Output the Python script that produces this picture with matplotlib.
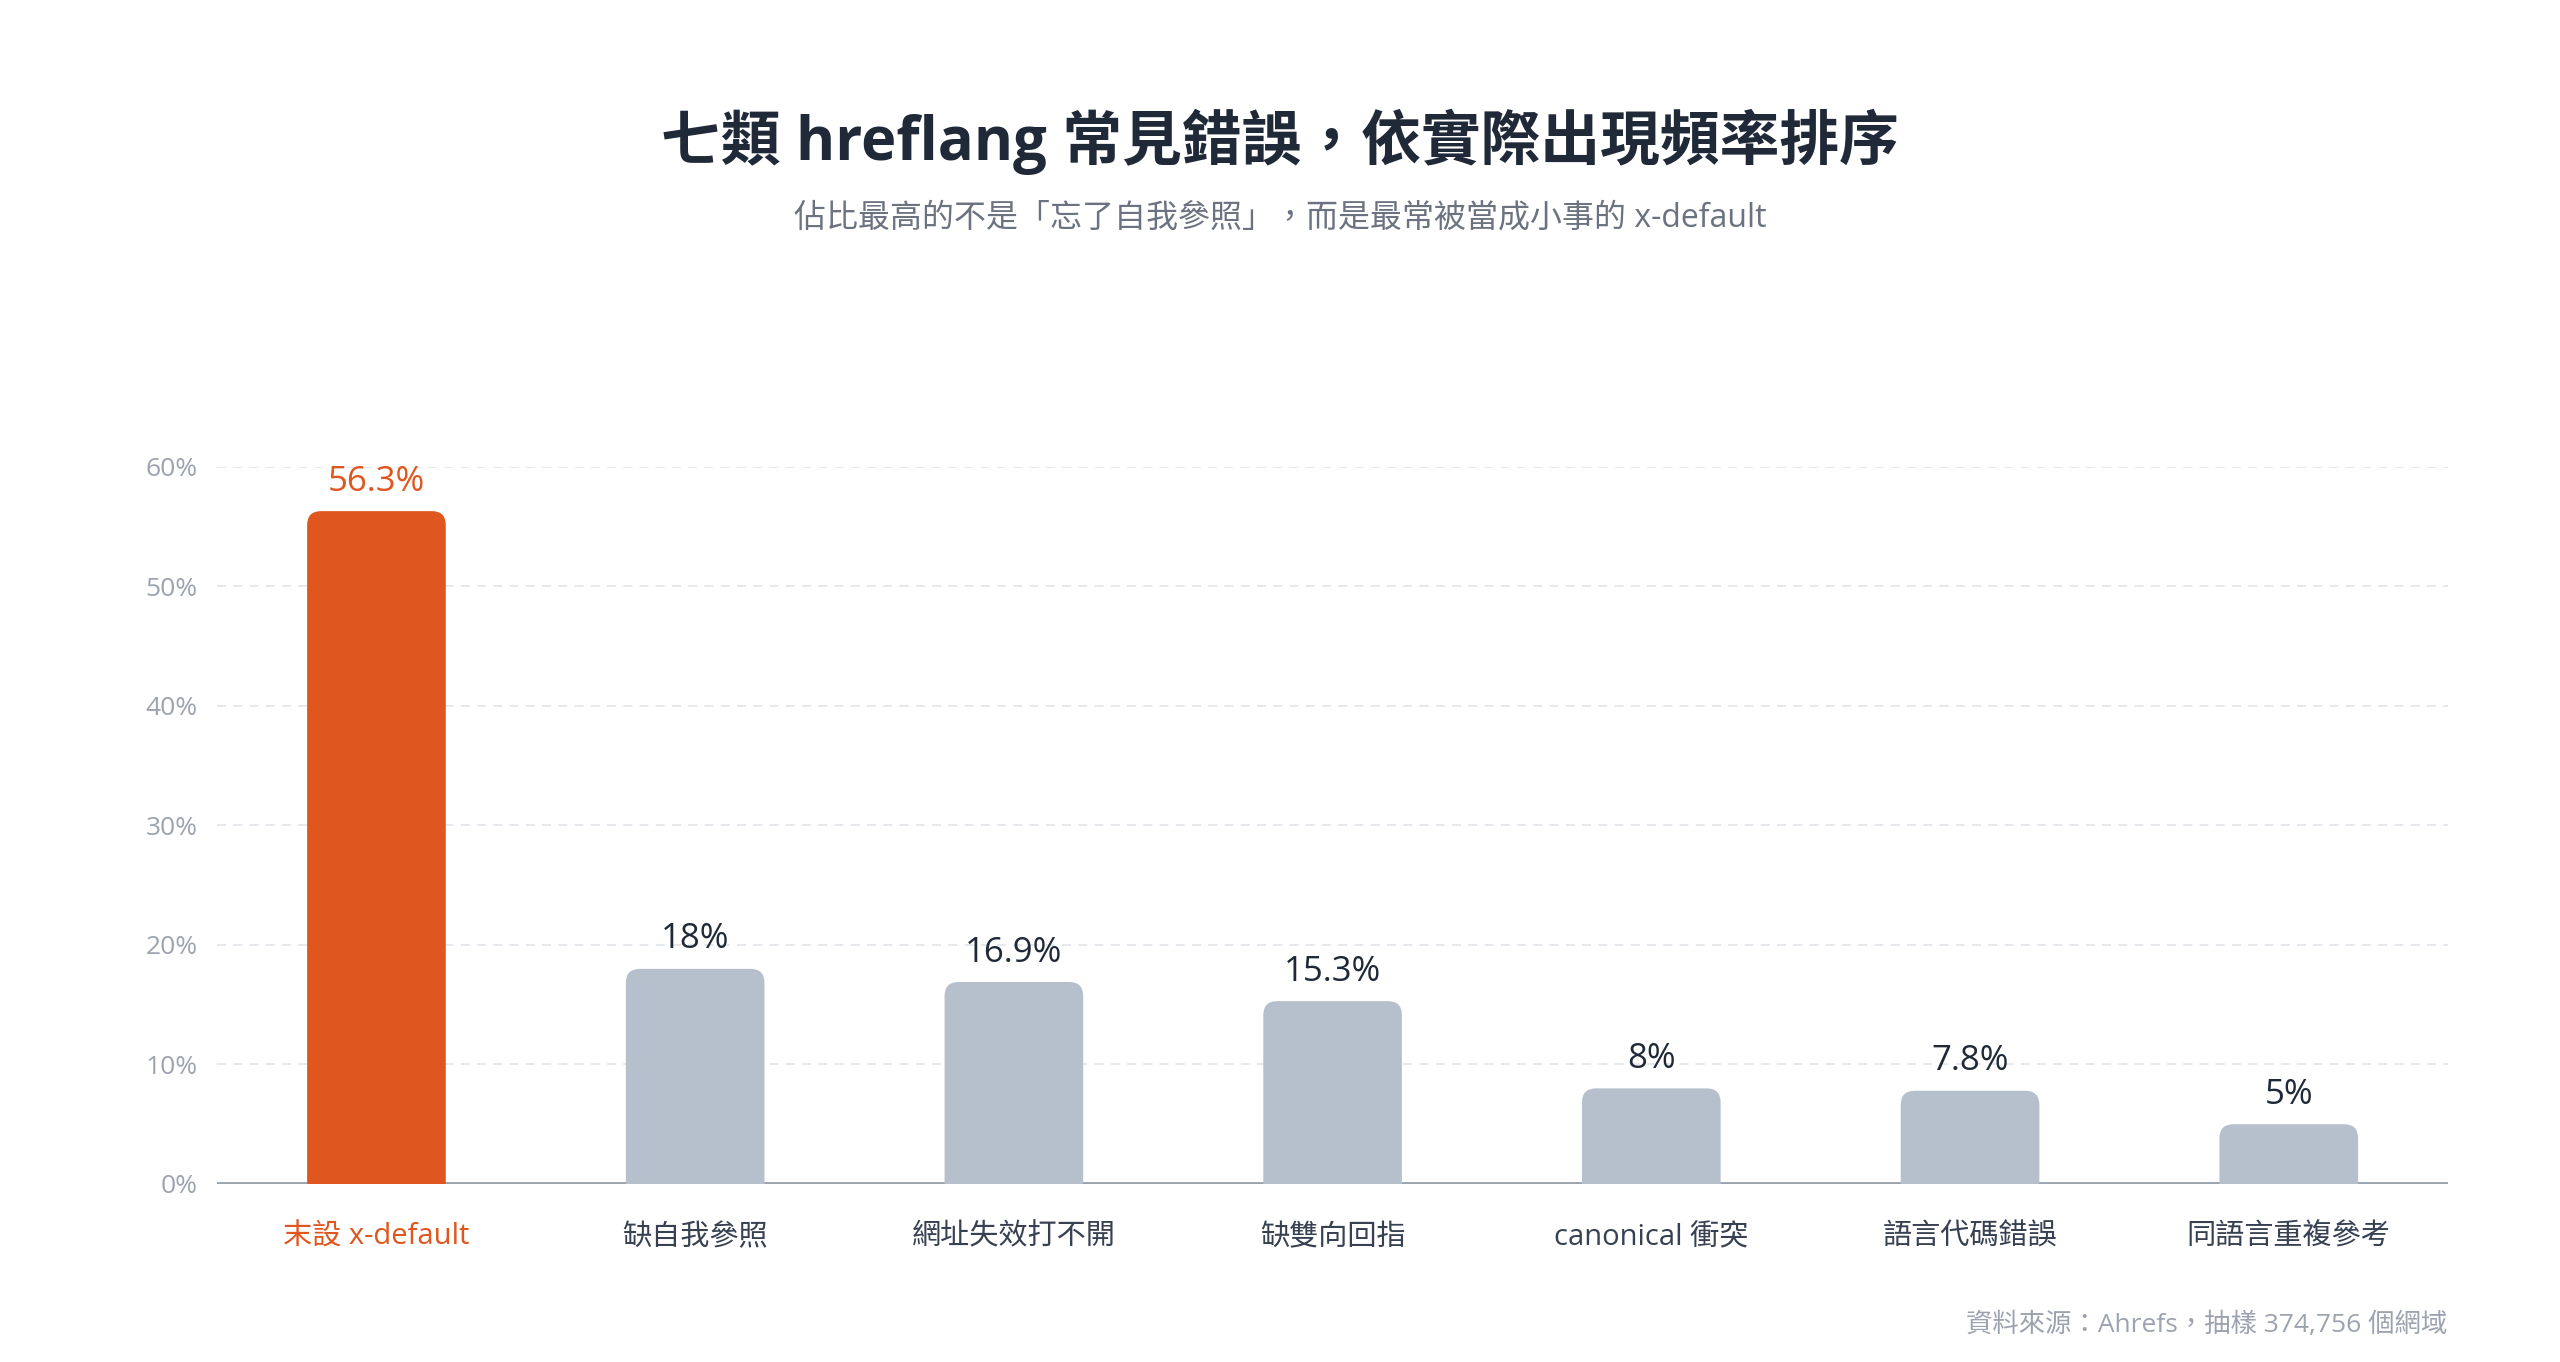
import numpy as np
import matplotlib
matplotlib.use("Agg")
import matplotlib.pyplot as plt
from matplotlib.patches import PathPatch
from matplotlib.path import Path

plt.rcParams['font.family'] = ['Open Sans', 'Noto Sans CJK TC', 'DejaVu Sans']

# --- data ---
categories = ['末設 x-default', '缺自我參照', '網址失效打不開', '缺雙向回指',
              'canonical 衝突', '語言代碼錯誤', '同語言重複參考']
values = [56.3, 18, 16.9, 15.3, 8, 7.8, 5]
value_labels = ['56.3%', '18%', '16.9%', '15.3%', '8%', '7.8%', '5%']
yticks = [0, 10, 20, 30, 40, 50, 60]
ytick_labels = ['0%', '10%', '20%', '30%', '40%', '50%', '60%']

title = '七類 hreflang 常見錯誤，依實際出現頻率排序'
subtitle = '佔比最高的不是「忘了自我參照」，而是最常被當成小事的 x-default'
source = '資料來源：Ahrefs，抽樣 374,756 個網域'

ORANGE = '#E0561F'
GREY_BAR = '#B6C0CC'
DARK = '#1F2937'


def rounded_top_bar(left, width, height, rx, ry, bottom=-0.15):
    """Bar path with rounded top corners and a square base."""
    right = left + width
    top = height
    verts = [(left, bottom), (left, top - ry), (left, top), (left + rx, top),
             (right - rx, top), (right, top), (right, top - ry),
             (right, bottom), (left, bottom)]
    codes = [Path.MOVETO, Path.LINETO, Path.CURVE3, Path.CURVE3,
             Path.LINETO, Path.CURVE3, Path.CURVE3,
             Path.LINETO, Path.CLOSEPOLY]
    return Path(verts, codes)


fig = plt.figure(figsize=(25.6, 13.62), dpi=100)
ax = fig.add_axes([0.0848, 0.1307, 0.8715, 0.5265])

x = np.arange(len(categories))
colors = [ORANGE if i == 0 else GREY_BAR for i in range(len(values))]
bar_w = 0.435

ax.set_xlim(-0.5, len(categories) - 0.5)
ax.set_ylim(0, 60)

# corner radius in pixels -> data units on each axis
fig.canvas.draw()
bbox = ax.get_window_extent()
x_per_px = (ax.get_xlim()[1] - ax.get_xlim()[0]) / bbox.width
y_per_px = (ax.get_ylim()[1] - ax.get_ylim()[0]) / bbox.height
radius_px = 14
for xi, v, c in zip(x, values, colors):
    p = rounded_top_bar(xi - bar_w / 2, bar_w, v,
                        radius_px * x_per_px, radius_px * y_per_px)
    ax.add_patch(PathPatch(p, facecolor=c, edgecolor='none', zorder=3))

# value labels
for xi, v, lab, c in zip(x, values, value_labels, colors):
    ax.annotate(lab, (xi, v), xytext=(0, 9), textcoords='offset points',
                ha='center', va='bottom', fontsize=25, fontweight='medium',
                color=ORANGE if c == ORANGE else DARK)

# grid and baseline
for t in yticks[1:]:
    ax.axhline(t, color='#E3E6EA', linewidth=1.3, linestyle=(0, (5, 4)), zorder=1)
ax.axhline(0, color='#9AA3AE', linewidth=3.5, zorder=2)

for s in ax.spines.values():
    s.set_visible(False)

ax.set_yticks(yticks)
ax.set_yticklabels(ytick_labels, fontsize=19, color='#9CA3AF')
ax.set_xticks(x)
ax.set_xticklabels(categories, fontsize=21, color='#374151')
ax.get_xticklabels()[0].set_color(ORANGE)
ax.tick_params(axis='both', length=0)
ax.tick_params(axis='x', pad=28)
ax.tick_params(axis='y', pad=14)

fig.text(0.5, 0.896, title, ha='center', va='center', fontsize=43,
         fontweight='bold', color=DARK)
fig.text(0.5, 0.840, subtitle, ha='center', va='center', fontsize=23,
         color='#6B7280')
fig.text(0.956, 0.027, source, ha='right', va='center', fontsize=19,
         color='#9CA3AF')

fig.savefig('out.png', dpi=100, facecolor='white')
